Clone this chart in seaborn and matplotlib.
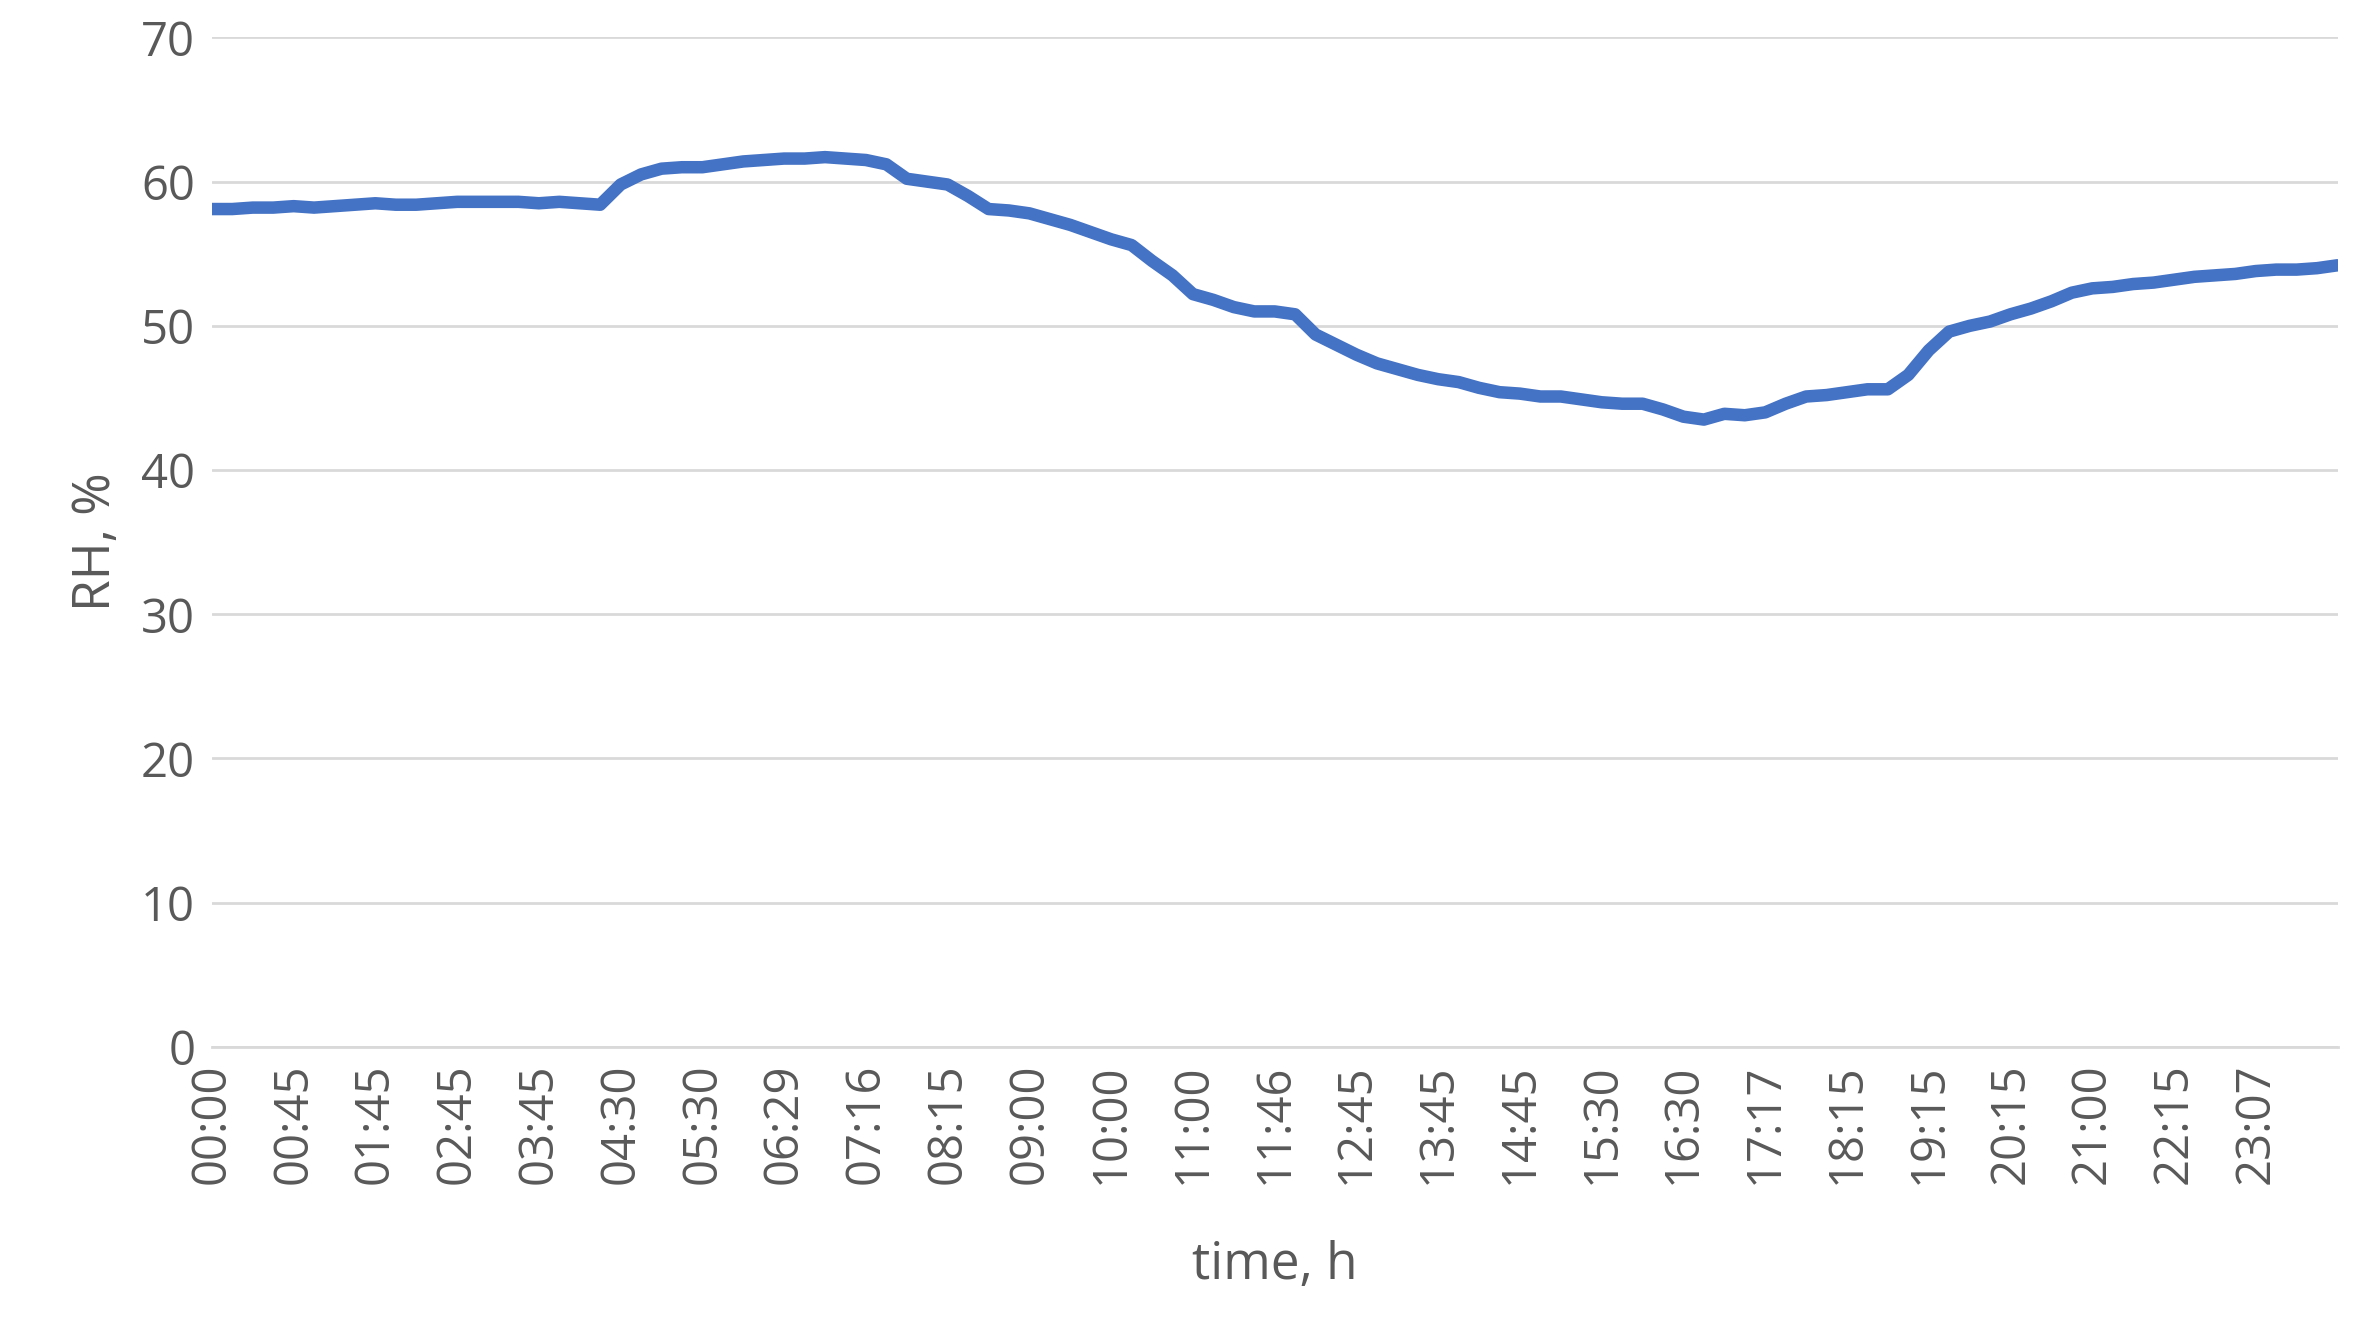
import numpy as np
import pandas as pd
import matplotlib.pyplot as plt
import seaborn as sns

sns.set_theme(style="white")
plt.rcParams['font.family'] = ['Open Sans', 'DejaVu Sans']

# tick labels (one every 4 samples)
tick_labels = ['00:00', '00:45', '01:45', '02:45', '03:45', '04:30', '05:30', '06:29',
               '07:16', '08:15', '09:00', '10:00', '11:00', '11:46', '12:45', '13:45',
               '14:45', '15:30', '16:30', '17:17', '18:15', '19:15', '20:15', '21:00',
               '22:15', '23:07']

# relative humidity readings, %
rh = [58.1, 58.1, 58.2, 58.2, 58.3, 58.2, 58.3, 58.4, 58.5, 58.4, 58.4, 58.5,
      58.6, 58.6, 58.6, 58.6, 58.5, 58.6, 58.5, 58.4, 59.8, 60.5, 60.9, 61.0,
      61.0, 61.2, 61.4, 61.5, 61.6, 61.6, 61.7, 61.6, 61.5, 61.2, 60.2, 60.0,
      59.8, 59.0, 58.1, 58.0, 57.8, 57.4, 57.0, 56.5, 56.0, 55.6, 54.5, 53.5,
      52.2, 51.8, 51.3, 51.0, 51.0, 50.8, 49.4, 48.7, 48.0, 47.4, 47.0, 46.6,
      46.3, 46.1, 45.7, 45.4, 45.3, 45.1, 45.1, 44.9, 44.7, 44.6, 44.6, 44.2,
      43.7, 43.5, 43.9, 43.8, 44.0, 44.6, 45.1, 45.2, 45.4, 45.6, 45.6, 46.6,
      48.3, 49.6, 50.0, 50.3, 50.8, 51.2, 51.7, 52.3, 52.6, 52.7, 52.9, 53.0,
      53.2, 53.4, 53.5, 53.6, 53.8, 53.9, 53.9, 54.0, 54.2]

df = pd.DataFrame({'idx': np.arange(len(rh)), 'rh': rh})

fig = plt.figure(figsize=(23.54, 13.37), dpi=100)
ax = fig.add_axes([0.09, 0.217, 0.903, 0.755])

sns.lineplot(data=df, x='idx', y='rh', ax=ax, color='#4472C4', linewidth=9,
             solid_capstyle='round')

ax.set_xlim(0, len(rh) - 1)
ax.set_ylim(0, 70)
ax.set_yticks(range(0, 71, 10))
ax.set_xticks(np.arange(len(tick_labels)) * 4)
ax.set_xticklabels(tick_labels, rotation=90)
ax.grid(axis='y', color='#d9d9d9', linewidth=2)
ax.set_axisbelow(True)
for s in ['top', 'right', 'left']:
    ax.spines[s].set_visible(False)
ax.spines['bottom'].set_color('#d9d9d9')
ax.spines['bottom'].set_linewidth(2)
ax.tick_params(axis='both', colors='#595959', labelsize=34, length=0, pad=12)
ax.set_xlabel('time, h', fontsize=37, color='#595959', labelpad=40)
ax.set_ylabel('RH, %', fontsize=37, color='#595959', labelpad=14)

plt.savefig('out.png', dpi=100, facecolor='white')
